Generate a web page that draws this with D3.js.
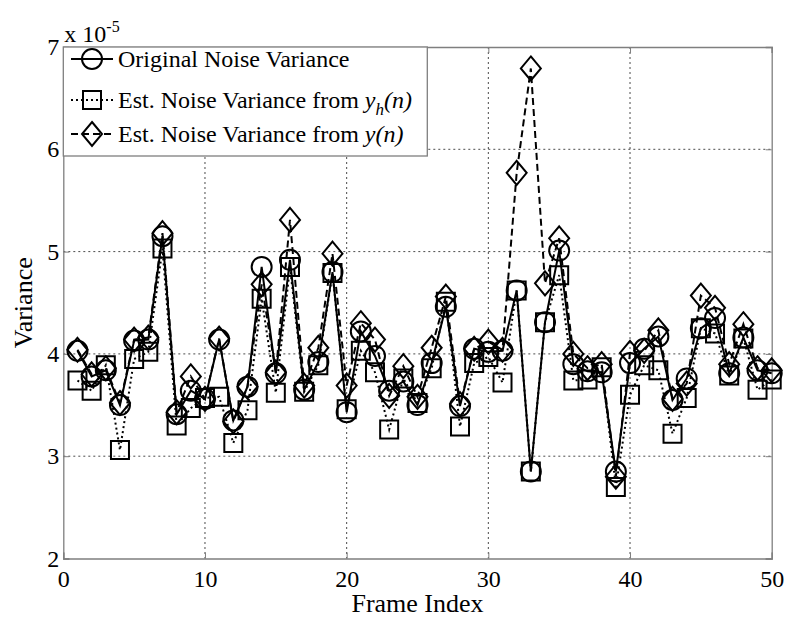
<!DOCTYPE html>
<html><head><meta charset="utf-8">
<script src="https://cdn.jsdelivr.net/npm/d3@7"></script>
<style>body{margin:0;background:#fff}svg{display:block}text{font-family:"Liberation Serif","Times New Roman",serif;fill:#000}</style>
</head><body><svg id="c" width="789" height="624"></svg>
<script>
const frames = d3.range(1, 51);
const original = [4.03,3.78,3.84,3.50,4.13,4.14,5.15,3.41,3.64,3.56,4.14,3.35,3.68,4.85,3.81,4.92,3.65,3.92,4.80,3.43,4.22,3.98,3.64,3.73,3.50,3.91,4.46,3.49,4.05,4.02,4.03,4.62,2.85,4.31,5.01,3.90,3.83,3.82,2.85,3.91,4.05,4.17,3.55,3.76,4.25,4.35,3.81,4.16,3.84,3.81];
const estYh = [3.74,3.64,3.89,3.06,3.95,4.02,5.03,3.30,3.47,3.57,3.58,3.13,3.45,4.54,3.62,4.85,3.63,3.89,4.79,3.46,4.03,3.82,3.26,3.76,3.52,3.86,4.51,3.29,3.91,3.97,3.72,4.62,2.85,4.31,4.77,3.74,3.75,3.87,2.70,3.60,3.89,3.84,3.22,3.57,4.25,4.20,3.79,4.15,3.65,3.75];
const estY = [4.04,3.80,3.86,3.52,4.14,4.16,5.18,3.43,3.78,3.56,4.15,3.34,3.68,4.68,3.82,5.31,3.69,4.06,4.98,3.69,4.30,4.14,3.59,3.88,3.58,4.06,4.56,3.51,4.05,4.12,4.04,5.77,6.79,4.69,5.13,4.00,3.86,3.90,2.80,4.01,4.03,4.23,3.56,3.71,4.57,4.45,3.90,4.29,3.86,3.84];
const xTicks = [0,10,20,30,40,50];
const yTicks = [2,3,4,5,6,7];
const legendLabels = ["Original Noise Variance","Est. Noise Variance from ","Est. Noise Variance from "];

const svg = d3.select("#c");
const L = 63.3, R = 771.7, T = 47, B = 558.5;
const x = d3.scaleLinear().domain([0,50]).range([L,R]);
const y = d3.scaleLinear().domain([2,7]).range([B,T]);

// grid
const g = svg.append("g");
g.selectAll(".gx").data(xTicks.slice(1,-1)).join("line")
  .attr("x1",d=>x(d)).attr("x2",d=>x(d)).attr("y1",T).attr("y2",B)
  .attr("stroke","#000").attr("stroke-width",1).attr("stroke-dasharray","2,3").attr("opacity",0.7);
g.selectAll(".gy").data(yTicks.slice(1,-1)).join("line")
  .attr("x1",L).attr("x2",R).attr("y1",d=>y(d)).attr("y2",d=>y(d))
  .attr("stroke","#000").attr("stroke-width",1).attr("stroke-dasharray","2,3").attr("opacity",0.7);

// axes
const xa = svg.append("g").attr("transform",`translate(0,${B})`)
  .call(d3.axisBottom(x).tickValues(xTicks).tickSize(-6).tickPadding(10).tickFormat(d3.format("d")));
const xa2 = svg.append("g").attr("transform",`translate(0,${T})`)
  .call(d3.axisTop(x).tickValues(xTicks).tickSize(-6).tickFormat(""));
const ya = svg.append("g").attr("transform",`translate(${L},0)`)
  .call(d3.axisLeft(y).tickValues(yTicks).tickSize(-6).tickPadding(4).tickFormat(d3.format("d")));
const ya2 = svg.append("g").attr("transform",`translate(${R},0)`)
  .call(d3.axisRight(y).tickValues(yTicks).tickSize(-6).tickFormat(""));
[xa,xa2,ya,ya2].forEach(a=>{
  a.selectAll("path").attr("stroke","#7f7f7f").attr("stroke-width",1.3);
  a.selectAll("line").attr("stroke","#7f7f7f");
  a.selectAll("text").style("font-size","24px").style("font-family","Liberation Serif");
});
xa.selectAll("text").attr("dy","0.75em");
ya.selectAll("text").attr("dy","0.32em");

// exponent
const ex = svg.append("text").attr("x",L+1).attr("y",T-5).style("font-size","24px");
ex.append("tspan").text("x 10");
ex.append("tspan").attr("dy",-10).style("font-size","16px").text("-5");

// axis labels
svg.append("text").attr("x",(L+R)/2).attr("y",612).attr("text-anchor","middle").style("font-size","26px").text("Frame Index");
svg.append("text").attr("transform",`translate(32,${(T+B)/2}) rotate(-90)`).attr("text-anchor","middle").style("font-size","26px").text("Variance");

// series
const series = [
  {data: original, dash: null, marker: "circle"},
  {data: estYh, dash: "2,3", marker: "square"},
  {data: estY, dash: "7,4", marker: "diamond"}
];
const line = d3.line().x((d,i)=>x(frames[i])).y(d=>y(d));
const sym = {
  circle: d3.symbol().type(d3.symbolCircle).size(Math.PI*10*10),
  square: d3.symbol().type(d3.symbolSquare).size(18*18)
};
function drawMarker(sel, type) {
  if (type === "diamond") {
    sel.append("path").attr("d","M0,-12L10,0L0,12L-10,0Z");
  } else {
    sel.append("path").attr("d", sym[type]());
  }
  sel.selectAll("path").attr("fill","none").attr("stroke","#000").attr("stroke-width",2);
}
series.forEach(s=>{
  svg.append("path").datum(s.data).attr("d",line).attr("fill","none").attr("stroke","#000")
    .attr("stroke-width",2).attr("stroke-dasharray",s.dash);
  const m = svg.append("g").selectAll("g").data(s.data).join("g")
    .attr("transform",(d,i)=>`translate(${x(frames[i])},${y(d)})`);
  m.each(function(){ drawMarker(d3.select(this), s.marker); });
});

// legend
const lg = svg.append("g");
lg.append("rect").attr("x",L).attr("y",T).attr("width",364).attr("height",109)
  .attr("fill","#fff").attr("stroke","#7f7f7f").attr("stroke-width",1.3);
const lyc = [T+12, T+53, T+87];
series.forEach((s,i)=>{
  const cy = lyc[i];
  lg.append("line").attr("x1",71).attr("x2",113).attr("y1",cy).attr("y2",cy)
    .attr("stroke","#000").attr("stroke-width",2).attr("stroke-dasharray",s.dash);
  const mg = lg.append("g").attr("transform",`translate(92,${cy})`);
  drawMarker(mg, s.marker);
  const t = lg.append("text").attr("x",118).attr("y",cy+8).style("font-size","24px").text(legendLabels[i]);
  if (i===1) {
    t.append("tspan").style("font-style","italic").text("y");
    t.append("tspan").style("font-style","italic").style("font-size","17px").attr("dy",7).text("h");
    t.append("tspan").style("font-style","italic").attr("dy",-7).text("(n)");
  } else if (i===2) {
    t.append("tspan").style("font-style","italic").text("y(n)");
  }
});
</script></body></html>
